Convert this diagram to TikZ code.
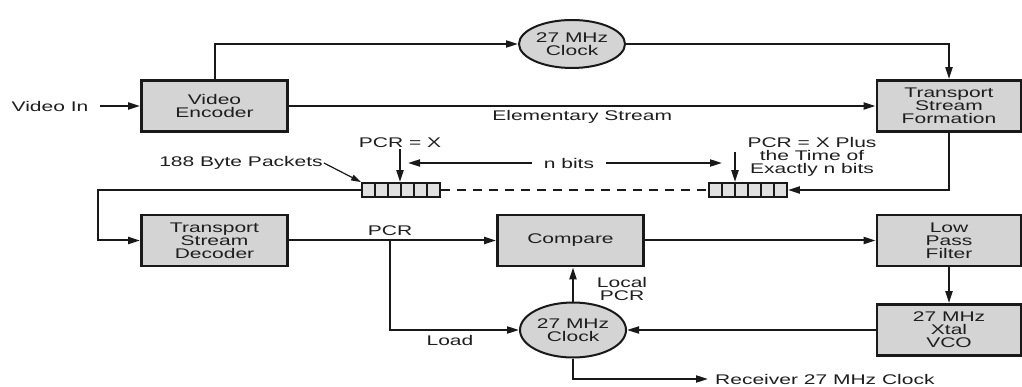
\documentclass[tikz,border=0pt]{standalone}
\usepackage{fontspec}
\setmainfont{Liberation Sans}[FakeStretch=1.5]
\usetikzlibrary{arrows.meta,positioning,shapes.geometric}
\definecolor{boxgrey}{RGB}{212,212,212}
\definecolor{inkgrey}{RGB}{30,30,30}
\begin{document}
\begin{tikzpicture}[x=1pt,y=-1pt,
  every node/.style={font=\fontsize{14}{13}\selectfont,text=inkgrey,inner sep=1pt},
  blk/.style={draw=black!90,line width=2.8pt,fill=boxgrey,minimum width=146pt,
              minimum height=51pt,align=center},
  clk/.style={ellipse,draw=black!90,line width=2pt,fill=boxgrey,minimum width=106pt,
              minimum height=48pt,align=center,inner sep=0pt},
  pkt/.style={draw=black!90,line width=1.8pt,fill=boxgrey!70,minimum width=78pt,
              minimum height=14pt,inner sep=0pt,
              path picture={\foreach \i in {1,...,5}
                \draw[black!90,line width=1.8pt]
                  ([xshift={\i*13pt}]path picture bounding box.south west) --
                  ([xshift={\i*13pt}]path picture bounding box.north west);}},
  lbl/.style={align=center},
  ar/.style={-{Triangle[length=12pt,width=7pt]},line width=2pt,draw=black!90}]
\useasboundingbox (0,0) rectangle (1022,387);

% transmitter
\node (vin) at (50,106) {Video In};
\node[blk] (enc) at (214.5,106) {Video\\Encoder};
\node[clk] (clka) at (572,44) {27 MHz\\Clock};
\node[blk,minimum width=144pt] (tsf) at (949,106) {Transport\\Stream\\Formation};

\draw[ar] ([xshift=10pt]vin.east) -- (enc.west);
\draw[ar] (enc.north) |- (clka.west);
\draw[ar] (clka.east) -| (tsf.north);
\draw[ar] (enc.east) -- node[below=2pt] (es) {Elementary Stream} (tsf.west);

% packets in transit
\node[pkt] (pa) at (401,190) {};
\node[pkt] (pb) at (748,190) {};
\node (bp) at (241,163) {188 Byte Packets};
\node (pcrx) at (400,143) {PCR = X};
\node[inner xsep=12pt] (nb) at (569,163) {n bits};
\node[lbl] (pcrn) at (812,157) {PCR = X Plus\\the Time of\\Exactly n bits};
\coordinate (ta) at (408,163);
\coordinate (tb) at (722,163);
\coordinate (db) at (735,152);

\draw[line width=2pt,black!90,dash pattern=on 9pt off 7pt] (pa.east) -- (pb.west);
\draw[ar] (tsf.south) |- (pb.east);
\draw[ar] (pcrx.south) -- (pcrx.south |- pa.north);
\draw[ar] (db) -- (db |- pb.north);
\draw[ar] (nb.west) -- (ta);
\draw[ar] (nb.east) -- (tb);
\draw[-{Triangle[length=10pt,width=6pt]},line width=1.2pt,black!90] (bp.east) -- (pa.north west);

% receiver
\node[blk] (tsd) at (214.5,240.5) {Transport\\Stream\\Decoder};
\node[blk] (cmp) at (570.5,240.5) {Compare};
\node[blk,minimum width=144pt] (lpf) at (949,240.5) {Low\\Pass\\Filter};
\node[blk,minimum width=144pt] (vco) at (949,330) {27 MHz\\Xtal\\VCO};
\node[clk,minimum height=55pt] (clkb) at (573,330) {27 MHz\\Clock};
\node (pcr) at (390,231) {PCR};
\node (load) at (450,340) {Load};
\node[lbl] (lpcr) at (622,289) {Local\\PCR};
\node[anchor=west,inner xsep=7pt] (rcv) at (708,379) {Receiver 27 MHz Clock};

\draw[ar] (pa.west) -| ([xshift=-42pt]tsd.west) -- (tsd.west);
\draw[ar] (tsd.east) -- (cmp.west);
\draw[ar] (tsd.east -| pcr) |- (clkb.west);
\draw[ar] (clkb.north) -- (clkb.north |- cmp.south);
\draw[ar] (cmp.east) -- (lpf.west);
\draw[ar] (lpf.south) -- (vco.north);
\draw[ar] (vco.west) -- (clkb.east);
\draw[ar] (clkb.south) |- (rcv.west);
\end{tikzpicture}
\end{document}
